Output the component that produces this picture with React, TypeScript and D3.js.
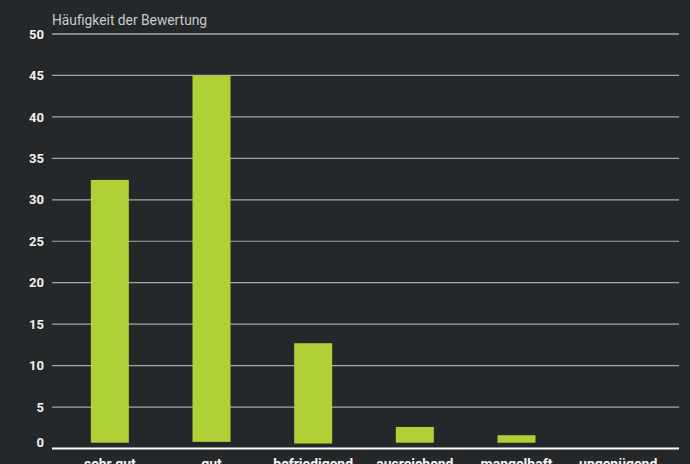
import React from "react";
import * as d3 from "d3";

const categories = ["sehr gut", "gut", "befriedigend", "ausreichend", "mangelhaft", "ungenügend"];
const values = [32.4, 45, 12.7, 2.6, 1.6, 0];
const barBase = [0.7, 0.8, 0.6, 0.7, 0.7, 0.7];
const yTicks = [0, 5, 10, 15, 20, 25, 30, 35, 40, 45, 50];
const title = "Häufigkeit der Bewertung";

const W = 690;
const H = 464;

export default function App() {
  const x = d3.scaleBand<string>().domain(categories).range([59, 669]).padding(0);
  const y = d3.scaleLinear().domain([0, 50]).range([448.5, 34]);
  const barW = 38;
  const font = "Roboto, 'DejaVu Sans', sans-serif";
  return (
    <svg
      width={W}
      height={H}
      style={{ position: "absolute", left: 0, top: 0, background: "#25282b", display: "block" }}
    >
      <rect x={0} y={0} width={W} height={H} fill="#25282b" />
      <text x={52} y={24.5} fill="#c8c9ca" fontSize={13.8} fontFamily={font}>
        {title}
      </text>
      {yTicks.map((t) => (
        <g key={t}>
          {t !== 0 && (
            <line
              x1={52}
              x2={679}
              y1={y(t)}
              y2={y(t)}
              stroke={t === 50 ? "#e6e6e6" : "#a5a6a7"}
              strokeWidth={1.2}
            />
          )}
          <text
            x={44}
            y={t === 0 ? y(t) - 6 : y(t)}
            dy="0.36em"
            textAnchor="end"
            fill="#f2f2f2"
            fontSize={13}
            fontWeight="bold"
            fontFamily={font}
          >
            {t}
          </text>
        </g>
      ))}
      {categories.map((c, i) =>
        values[i] > 0 ? (
          <rect
            key={c}
            x={(x(c) as number) + x.bandwidth() / 2 - barW / 2}
            y={y(values[i])}
            width={barW}
            height={y(barBase[i]) - y(values[i])}
            fill="#b0d135"
          />
        ) : null
      )}
      <line x1={52} x2={679} y1={448.5} y2={448.5} stroke="#ffffff" strokeWidth={2.2} />
      {categories.map((c) => (
        <text
          key={c}
          x={(x(c) as number) + x.bandwidth() / 2}
          y={468.5}
          textAnchor="middle"
          fill="#f2f2f2"
          fontSize={14}
          fontWeight="bold"
          fontFamily={font}
        >
          {c}
        </text>
      ))}
    </svg>
  );
}
